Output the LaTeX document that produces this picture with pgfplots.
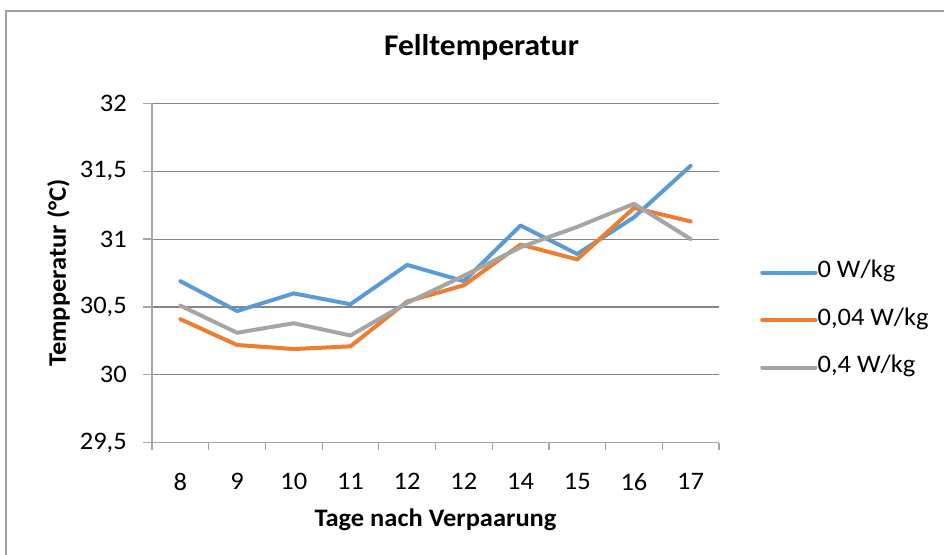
\documentclass[border=0pt]{standalone}
\usepackage{pgfplots}
\pgfplotsset{compat=1.18}
\usepackage{pgfplotstable}
\usepackage{fontspec}
\setmainfont{Carlito}[FakeStretch=1.05]
\definecolor{cblue}{HTML}{5B9BD5}
\definecolor{corange}{HTML}{ED7D31}
\definecolor{cgray}{HTML}{A5A5A5}
\definecolor{gridc}{HTML}{868686}
\definecolor{axisc}{HTML}{A6A6A6}
\definecolor{framec}{HTML}{A0A0A0}

\pgfplotstableread{
x blue orange gray
0 30.69 30.41 30.51
1 30.47 30.22 30.31
2 30.60 30.19 30.38
3 30.52 30.21 30.29
4 30.81 30.54 30.53
5 30.69 30.66 30.73
6 31.10 30.96 30.94
7 30.89 30.85 31.09
8 31.16 31.23 31.26
9 31.54 31.13 31.00
}\datatable

\begin{document}
\begin{tikzpicture}
\useasboundingbox (0,0) rectangle (708pt,416.25pt);
\draw[framec, line width=0.9pt] (4.5pt,-5pt) -- (4.5pt,408pt) -- (715pt,408pt);
\begin{axis}[
  at={(114pt,84.2pt)}, anchor=south west,
  scale only axis,
  width=425.25pt, height=254.55pt,
  xmin=-0.5, xmax=9.5, ymin=29.5, ymax=32,
  axis x line=bottom, axis y line=left,
  axis line style={-, axisc, line width=0.9pt},
  xtick={0,...,9},
  xticklabels={8,9,10,11,12,12,14,15,16,17},
  minor xtick={-0.5,0.5,...,9.5},
  major x tick style={draw=none},
  minor x tick style={axisc, line width=0.9pt},
  minor tick length=5.5pt,
  ytick={29.5,30,30.5,31,31.5,32},
  yticklabels={{29,5},30,{30,5},31,{31,5},32},
  major y tick style={axisc, line width=0.9pt},
  major tick length=6.75pt,
  tick align=outside,
  ymajorgrids,
  major grid style={gridc, line width=0.8pt},
  tick label style={font=\fontsize{18.9}{22.7}\selectfont, inner sep=0pt},
  yticklabel style={anchor=east, xshift=-12pt},
  xticklabel style={anchor=north, yshift=-16pt},
  xlabel={Tage nach Verpaarung},
  ylabel={Tempperatur (°C)},
  label style={font=\bfseries\fontsize{18.9}{22.7}\selectfont},
  xlabel style={at={(rel axis cs:0.5,-0.2278)}, anchor=center},
  ylabel style={at={(rel axis cs:-0.1649,0.5)}, anchor=center},
  title={Felltemperatur},
  title style={font=\bfseries\fontsize{22.5}{27}\selectfont, at={(rel axis cs:0.5811,1.1423)}, anchor=center},
  legend style={at={(rel axis cs:1.0723,0.3615)}, anchor=west, draw=none, fill=none,
    inner sep=0pt, row sep=19.6pt, column sep=0pt,
    font=\fontsize{18.9}{22.7}\selectfont,
    nodes={inner sep=0pt, text height=12pt, text depth=4pt}},
  legend cell align=left,
  legend image code/.code={\draw[#1] (0pt,0pt) -- (40pt,0pt);},
  every axis plot/.append style={line width=3pt, line cap=round, line join=round},
]
\addplot[cblue] table[x=x, y=blue] {\datatable};
\addplot[corange] table[x=x, y=orange] {\datatable};
\addplot[cgray] table[x=x, y=gray] {\datatable};
\legend{0 W/kg,{0,04 W/kg},{0,4 W/kg}}
\end{axis}
\end{tikzpicture}
\end{document}
